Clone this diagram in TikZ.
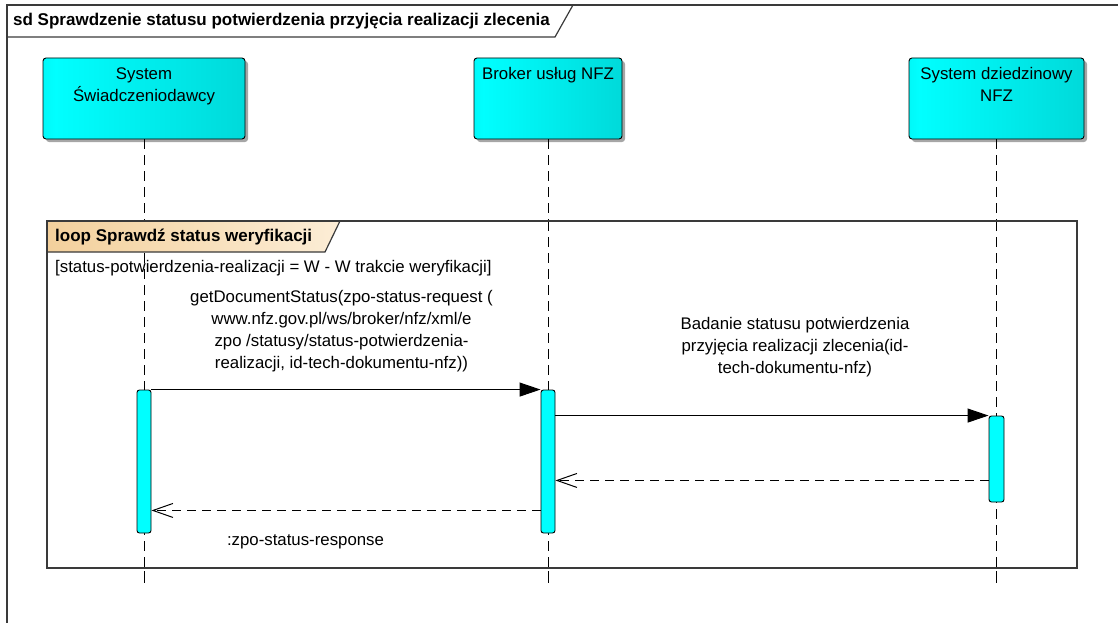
\documentclass[tikz,border=0pt]{standalone}
\usepackage{fontspec}
\setmainfont{Liberation Sans}
\usetikzlibrary{arrows.meta,shadows}
\definecolor{cyanedge}{HTML}{00C6C6}
\definecolor{cyanmid}{HTML}{00FFFF}
\definecolor{peachA}{HTML}{F3D09C}
\definecolor{peachB}{HTML}{FCEDD6}
\definecolor{framegray}{HTML}{3A3A3A}
\pgfdeclarehorizontalshading{lifeshade}{100bp}{color(0bp)=(cyanedge); color(28bp)=(cyanmid); color(100bp)=(cyanedge)}
\begin{document}
\begin{tikzpicture}[x=1pt,y=-1pt,
  lbox/.style={draw=black, line width=0.9pt, rounded corners=3pt, shading=lifeshade,
     minimum height=81pt, inner sep=0pt,
     drop shadow={shadow xshift=3pt, shadow yshift=-3pt, fill=black!35, opacity=1}},
  lbl/.style={font=\fontsize{16.8}{22}\selectfont, align=center, inner sep=0pt},
  actbox/.style={draw=black, line width=0.9pt, rounded corners=2.5pt, fill=cyanmid,
     minimum width=14pt, inner sep=0pt},
  lifeline/.style={line width=1pt, dash pattern=on 10pt off 6pt},
  syncmsg/.style={line width=1pt, -{Triangle[length=21pt,width=14pt]}},
  retmsg/.style={line width=1pt, dash pattern=on 9pt off 6pt, -{Straight Barb[length=20pt,width=14pt,line width=1pt]}},
  framebox/.style={draw=framegray, line width=1.2pt},
  ttl/.style={font=\fontsize{17}{20}\selectfont\bfseries, inner sep=0pt, anchor=west}
]
\useasboundingbox (0,0) rectangle (1118,623);

% outer sd frame
\draw[framebox] (7,630) -- (7,5) -- (1125,5);
\draw[framebox] (7,37) -- (555,37) -- (573,5);
\node[ttl] (sdtitle) at (13,21) {sd Sprawdzenie statusu potwierdzenia przyjęcia realizacji zlecenia};

% lifeline heads
\node[lbox, minimum width=202pt] (s1) at (144,98.5) {};
\node[lbox, minimum width=148pt] (s2) at (548,98.5) {};
\node[lbox, minimum width=175pt] (s3) at (996.5,98.5) {};
\node[lbl, anchor=north] (t1) at (144,67.5) {System\\Świadczeniodawcy};
\node[lbl, anchor=north] (t2) at (548,67.5) {Broker usług NFZ};
\node[lbl, anchor=north] (t3) at (996.5,67.5) {System dziedzinowy\\NFZ};

% lifelines
\coordinate (e1) at (144,587);
\coordinate (e2) at (548,587);
\coordinate (e3) at (996.5,587);
\draw[lifeline] (s1.south) -- (e1);
\draw[lifeline] (s2.south) -- (e2);
\draw[lifeline] (s3.south) -- (e3);

% loop frame
\draw[framebox, fill=white] (47,221) rectangle (1077,568);
% lifelines through loop
\draw[lifeline] (144,221) -- (e1);
\draw[lifeline] (548,221) -- (e2);
\draw[lifeline] (996.5,221) -- (e3);
\shade[left color=peachA, right color=peachB] (47,221) -- (340,221) -- (325,252) -- (47,252) -- cycle;
\draw[framebox] (47,252) -- (325,252) -- (340,221);
\draw[framebox] (47,221) rectangle (1077,568);
\node[ttl] (looptitle) at (55,237.5) {loop Sprawdź status weryfikacji};
\node[lbl, anchor=west] (guard) at (55,268.5) {[status-potwierdzenia-realizacji = W - W trakcie weryfikacji]};

% activations
\node[actbox, minimum height=143pt] (a1) at (144,461.5) {};
\node[actbox, minimum height=143pt] (a2) at (548,461.5) {};
\node[actbox, minimum width=15pt, minimum height=86pt] (a3) at (996.5,459) {};

% messages
\draw[syncmsg] (a1.north east) -- (a2.north west);
\node[lbl] (m1) at (341.5,331) {getDocumentStatus(zpo-status-request (\\www.nfz.gov.pl/ws/broker/nfz/xml/e\\zpo /statusy/status-potwierdzenia-\\realizacji, id-tech-dokumentu-nfz))};

\draw[syncmsg] (a2.east |- a3.north) -- (a3.north west);
\node[lbl] (m2) at (795,347.5) {Badanie statusu potwierdzenia\\przyjęcia realizacji zlecenia(id-\\tech-dokumentu-nfz)};

\coordinate (r1) at ([yshift=22pt]a3.south west);
\draw[retmsg] (r1) -- (r1 -| a2.east);

\coordinate (r2) at ([yshift=23pt]a2.south west);
\draw[retmsg] (r2) -- (r2 -| a1.east);
\node[lbl] (m4) at (305.5,542) {:zpo-status-response};
\end{tikzpicture}
\end{document}
